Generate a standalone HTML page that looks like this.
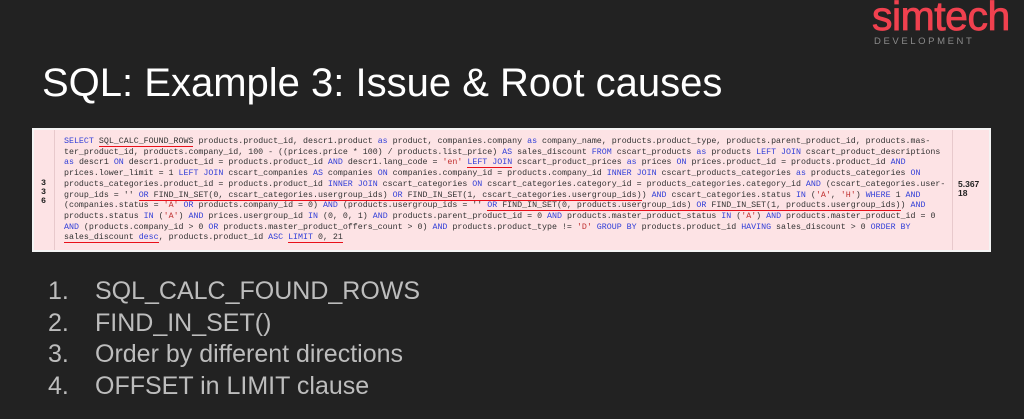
<!DOCTYPE html>
<html><head><meta charset="utf-8"><style>
*{margin:0;padding:0;box-sizing:border-box}
body{width:1024px;height:419px;background:#222222;position:relative;overflow:hidden;font-family:"Liberation Sans",sans-serif}
.logo{position:absolute;left:872px;top:-7px;color:#f0414f;font-size:41px;font-weight:normal;letter-spacing:-0.5px;-webkit-text-stroke:0.8px #f0414f}
.dev{position:absolute;left:874px;top:36px;color:#8a8a8a;font-size:9.5px;letter-spacing:2.6px}
.title{position:absolute;left:42px;top:61px;color:#fff;font-size:40px;white-space:nowrap}
.box{position:absolute;left:32px;top:128px;width:959px;height:124px;background:#fde3e5;border:2px solid #f4f4f4}
.c1{position:absolute;left:0;top:0;width:21px;height:100%;border-right:1px solid #e8c9cc}
.c3{position:absolute;left:918px;top:0;width:39px;height:100%;border-left:1px solid #e8c9cc;font-size:8.5px;font-weight:bold;color:#222;padding:50px 0 0 5px;line-height:9px}
.nums{position:absolute;left:7px;top:49px;font-family:"Liberation Mono",monospace;font-size:8.4px;font-weight:bold;line-height:9px;color:#222}
pre{position:absolute;left:30px;top:7px;font-family:"Liberation Mono",monospace;font-size:8.3px;line-height:10.7px;color:#333}
b{font-weight:normal;color:#3340d8}
i{font-style:normal;color:#c03030}
u{text-decoration:none;border-bottom:1.5px solid #e8101a}
ol{position:absolute;left:48px;top:276px;list-style:none;color:#bdbdbd;font-size:25px}
li{height:31.5px;line-height:31px}
li span{display:inline-block;width:47px}
</style></head><body>
<div class="logo">simtech</div>
<div class="dev">DEVELOPMENT</div>
<div class="title">SQL: Example 3: Issue &amp; Root causes</div>
<div class="box">
<div class="c1"></div>
<div class="nums">3<br>3<br>6</div>
<div class="c3">5.367<br>18</div>
<pre><b>SELECT</b> <u>SQL_CALC_FOUND_ROWS</u> products.product_id, descr1.product <b>as</b> product, companies.company <b>as</b> company_name, products.product_type, products.parent_product_id, products.mas-
ter_product_id, products.company_id, 100 - ((prices.price * 100) / products.list_price) <b>AS</b> sales_discount <b>FROM</b> cscart_products <b>as</b> products <b>LEFT JOIN</b> cscart_product_descriptions
<b>as</b> descr1 <b>ON</b> descr1.product_id = products.product_id <b>AND</b> descr1.lang_code = <i>'en'</i> <u><b>LEFT JOIN</b></u> cscart_product_prices <b>as</b> prices <b>ON</b> prices.product_id = products.product_id <b>AND</b>
prices.lower_limit = 1 <b>LEFT JOIN</b> cscart_companies <b>AS</b> companies <b>ON</b> companies.company_id = products.company_id <b>INNER JOIN</b> cscart_products_categories <b>as</b> products_categories <b>ON</b>
products_categories.product_id = products.product_id <b>INNER JOIN</b> cscart_categories <b>ON</b> cscart_categories.category_id = products_categories.category_id <b>AND</b> (cscart_categories.user-
group_ids = '' <u><b>OR</b> FIND_IN_SET(0, cscart_categories.usergroup_ids) <b>OR</b> FIND_IN_SET(1, cscart_categories.usergroup_ids)</u>) <b>AND</b> cscart_categories.status <b>IN</b> (<i>'A'</i>, <i>'H'</i>) <b>WHERE</b> 1 <b>AND</b>
(companies.status = <i>'A'</i> <b>OR</b> products.company_id = 0) <b>AND</b> (products.usergroup_ids = '' <u><b>OR</b> FIND_IN_SET(0, products.usergroup_ids) <b>OR</b> FIND_IN_SET(1, products.usergroup_ids)</u>) <b>AND</b>
products.status <b>IN</b> (<i>'A'</i>) <b>AND</b> prices.usergroup_id <b>IN</b> (0, 0, 1) <b>AND</b> products.parent_product_id = 0 <b>AND</b> products.master_product_status <b>IN</b> (<i>'A'</i>) <b>AND</b> products.master_product_id = 0
<b>AND</b> (products.company_id &gt; 0 <b>OR</b> products.master_product_offers_count &gt; 0) <b>AND</b> products.product_type != <i>'D'</i> <b>GROUP BY</b> products.product_id <b>HAVING</b> sales_discount &gt; 0 <b>ORDER BY</b>
<u>sales_discount <b>desc</b></u>, products.product_id <b>ASC</b> <u><b>LIMIT</b> 0, 21</u></pre>
</div>
<ol>
<li><span>1.</span>SQL_CALC_FOUND_ROWS</li>
<li><span>2.</span>FIND_IN_SET()</li>
<li><span>3.</span>Order by different directions</li>
<li><span>4.</span>OFFSET in LIMIT clause</li>
</ol>
</body></html>
